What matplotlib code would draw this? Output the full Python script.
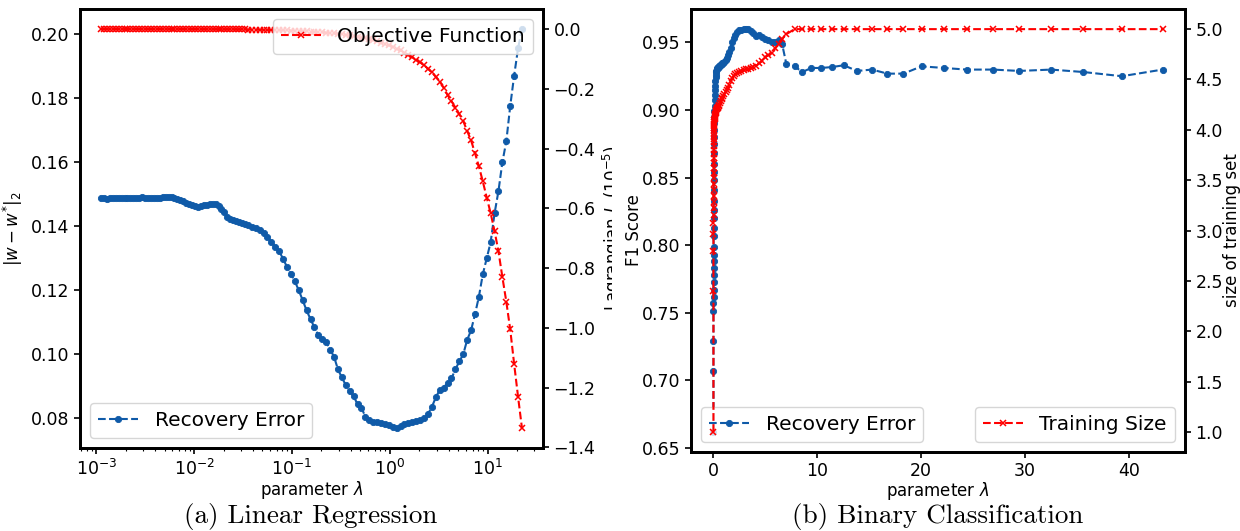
import numpy as np
import matplotlib
matplotlib.use("Agg")
import matplotlib.pyplot as plt
from matplotlib.ticker import MultipleLocator, FormatStrFormatter
from matplotlib.transforms import Bbox, TransformedBbox

# ---------------- (a) Linear regression sweep ----------------
# regularisation parameter, given as log10(lambda)
reg_log_lambda = [
    -2.95, -2.92, -2.89, -2.86, -2.83, -2.80, -2.77, -2.74, -2.71, -2.68,
    -2.65, -2.62, -2.59, -2.56, -2.53, -2.50, -2.47, -2.44, -2.41, -2.38,
    -2.35, -2.32, -2.29, -2.26, -2.23, -2.20, -2.17, -2.14, -2.11, -2.08,
    -2.05, -2.02, -1.99, -1.96, -1.93, -1.90, -1.87, -1.84, -1.81, -1.78,
    -1.75, -1.72, -1.69, -1.66, -1.63, -1.60, -1.57, -1.54, -1.51, -1.48,
    -1.45,
    -1.41, -1.37, -1.33, -1.29, -1.25, -1.21, -1.17, -1.13, -1.09, -1.05,
    -1.01, -0.97, -0.93, -0.89, -0.85, -0.81, -0.77, -0.73, -0.69, -0.65,
    -0.61, -0.57, -0.53, -0.49, -0.45, -0.41, -0.37, -0.33, -0.29, -0.25,
    -0.21, -0.17, -0.13, -0.09, -0.05, -0.01, 0.03, 0.07, 0.11, 0.15,
    0.19, 0.23, 0.27, 0.31, 0.35, 0.39, 0.43, 0.47, 0.51, 0.55,
    0.59, 0.63, 0.67, 0.71, 0.75, 0.79, 0.83, 0.87, 0.91, 0.95,
    0.99, 1.03, 1.07, 1.11, 1.15, 1.19, 1.23, 1.27, 1.31, 1.35,
]

# ||w - w*||_2
reg_recovery_error = [
    0.1487, 0.1487, 0.1486, 0.1487, 0.1488, 0.1487, 0.1487, 0.1488, 0.1488, 0.1489,
    0.1488, 0.1487, 0.1488, 0.1489, 0.1490, 0.1489, 0.1488, 0.1487, 0.1487, 0.1487,
    0.1488, 0.1490, 0.1491, 0.1492, 0.1490, 0.1487, 0.1484, 0.1481, 0.1478, 0.1474,
    0.1470, 0.1466, 0.1462, 0.1461, 0.1463, 0.1465, 0.1467, 0.1468, 0.1469, 0.1468,
    0.1463, 0.1454, 0.1443, 0.1430, 0.1423, 0.1418, 0.1415, 0.1413, 0.1410, 0.1408,
    0.1405,
    0.1399, 0.1393, 0.1387, 0.1379, 0.1366, 0.1351, 0.1336, 0.1322, 0.1298, 0.1273,
    0.1250, 0.1228, 0.1200, 0.1169, 0.1137, 0.1110, 0.1084, 0.1060, 0.1047, 0.1038,
    0.1015, 0.0993, 0.0953, 0.0928, 0.0904, 0.0886, 0.0870, 0.0844, 0.0834, 0.0805,
    0.0794, 0.0790, 0.0789, 0.0787, 0.0784, 0.0780, 0.0772, 0.0770, 0.0777, 0.0782,
    0.0786, 0.0790, 0.0792, 0.0795, 0.0800, 0.0814, 0.0836, 0.0866, 0.0889, 0.0896,
    0.0911, 0.0925, 0.0953, 0.0978, 0.1000, 0.1045, 0.1075, 0.1125, 0.1180, 0.1250,
    0.1300, 0.1350, 0.1440, 0.1510, 0.1600, 0.1665, 0.1775, 0.1870, 0.1955, 0.2016,
]

# Lagrangian objective, in units of 1e-5
reg_objective = [
    -0.0001, -0.0001, -0.0001, -0.0001, -0.0001, -0.0001, -0.0001, -0.0001, -0.0001, -0.0001,
    -0.0002, -0.0002, -0.0002, -0.0002, -0.0002, -0.0002, -0.0002, -0.0002, -0.0002, -0.0002,
    -0.0002, -0.0003, -0.0003, -0.0003, -0.0003, -0.0004, -0.0004, -0.0004, -0.0004, -0.0005,
    -0.0005, -0.0005, -0.0006, -0.0006, -0.0007, -0.0007, -0.0008, -0.0008, -0.0009, -0.0009,
    -0.0010, -0.0011, -0.0011, -0.0012, -0.0013, -0.0014, -0.0015, -0.0016, -0.0017, -0.0019,
    -0.0020,
    -0.0022, -0.0024, -0.0026, -0.0029, -0.0031, -0.0035, -0.0038, -0.0041, -0.0046, -0.0050,
    -0.0055, -0.0060, -0.0066, -0.0072, -0.0079, -0.0087, -0.0095, -0.0104, -0.0114, -0.0125,
    -0.0137, -0.0151, -0.0165, -0.0181, -0.0199, -0.0218, -0.0239, -0.0262, -0.0287, -0.0315,
    -0.0345, -0.0379, -0.0415, -0.0455, -0.0499, -0.0547, -0.0600, -0.0658, -0.0721, -0.0791,
    -0.0867, -0.0951, -0.104, -0.112, -0.121, -0.133, -0.145, -0.160, -0.176, -0.196,
    -0.221, -0.242, -0.263, -0.285, -0.308, -0.341, -0.373, -0.415, -0.460, -0.510,
    -0.564, -0.616, -0.676, -0.744, -0.830, -0.912, -1.005, -1.120, -1.230, -1.335,
]

# ---------------- (b) Binary classification sweep ----------------
clf_lambda = [
    0.0005, 0.001, 0.002, 0.003, 0.004, 0.005, 0.006, 0.007, 0.008, 0.009,
    0.010, 0.012, 0.014, 0.016, 0.018, 0.020, 0.023, 0.026, 0.030, 0.034,
    0.038, 0.043, 0.048, 0.054, 0.060, 0.067, 0.075, 0.084, 0.094, 0.105,
    0.117, 0.130, 0.145, 0.160, 0.180, 0.200, 0.220, 0.250, 0.280, 0.310,
    0.350, 0.390, 0.440, 0.490,
    0.55, 0.62, 0.70, 0.78, 0.87, 0.96, 1.06, 1.16, 1.27, 1.39,
    1.52, 1.65, 1.80, 1.95, 2.12, 2.30, 2.49, 2.69, 2.90, 3.12,
    3.35, 3.59, 3.84, 4.10, 4.38, 4.66, 4.96, 5.27, 5.60, 5.94,
    6.30, 6.60, 7.01, 7.81, 8.55, 9.42, 10.39, 11.45, 12.54, 13.82,
    15.27, 16.75, 18.29, 20.03, 22.18, 24.37, 26.93, 29.44, 32.50, 35.61,
    39.31, 43.23,
]

clf_f1 = [
    0.662, 0.707, 0.729, 0.751, 0.757, 0.762, 0.767, 0.773, 0.778, 0.783,
    0.788, 0.793, 0.799, 0.807, 0.813, 0.820, 0.826, 0.833, 0.841, 0.848,
    0.854, 0.860, 0.868, 0.875, 0.880, 0.885, 0.890, 0.895, 0.899, 0.903,
    0.907, 0.911, 0.915, 0.918, 0.921, 0.924, 0.926, 0.928, 0.929, 0.930,
    0.931, 0.931, 0.932, 0.932,
    0.9325, 0.9330, 0.9335, 0.9340, 0.9345, 0.9350, 0.9355, 0.9370, 0.9385, 0.9405,
    0.9428, 0.9460, 0.9500, 0.9530, 0.9555, 0.9575, 0.9588, 0.9593, 0.9596, 0.9597,
    0.9595, 0.9585, 0.9570, 0.9545, 0.9555, 0.9540, 0.9525, 0.9518, 0.9505, 0.9500,
    0.9513, 0.9490, 0.9342, 0.9322, 0.9280, 0.9310, 0.9310, 0.9317, 0.9330, 0.9288,
    0.9298, 0.9268, 0.9268, 0.9322, 0.9310, 0.9298, 0.9298, 0.9288, 0.9298, 0.9280,
    0.9249, 0.9298,
]

clf_train_size = [
    1.00, 2.40, 2.80, 2.97, 3.07, 3.15, 3.22, 3.28, 3.34, 3.40,
    3.46, 3.52, 3.57, 3.62, 3.67, 3.72, 3.76, 3.80, 3.84, 3.88,
    3.91, 3.94, 3.97, 4.00, 4.02, 4.04, 4.06, 4.08, 4.10, 4.11,
    4.12, 4.13, 4.14, 4.15, 4.16, 4.17, 4.18, 4.19, 4.20, 4.21,
    4.22, 4.22, 4.23, 4.24,
    4.25, 4.27, 4.29, 4.31, 4.32, 4.34, 4.36, 4.38, 4.40, 4.42,
    4.45, 4.48, 4.51, 4.53, 4.55, 4.56, 4.57, 4.58, 4.59, 4.60,
    4.60, 4.61, 4.62, 4.63, 4.66, 4.68, 4.72, 4.74, 4.76, 4.81,
    4.85, 4.90, 4.95, 5.00, 5.00, 5.00, 5.00, 5.00, 5.00, 5.00,
    5.00, 5.00, 5.00, 5.00, 5.00, 5.00, 5.00, 5.00, 5.00, 5.00,
    5.00, 5.00,
]

BLUE = "#0f5aa8"
RED = "#ff0000"
TICK_FS = 12.5
LABEL_FS = 12
LEGEND_FS = 14.5
CAPTION_FS = 19.5

plt.rcParams.update({
    "font.family": ["DejaVu Sans"],
    "axes.linewidth": 2.0,
    "xtick.major.width": 1.2,
    "ytick.major.width": 1.2,
    "xtick.major.size": 4,
    "ytick.major.size": 4,
    "xtick.minor.width": 0.8,
    "xtick.minor.size": 2.5,
})

W, H = 1240, 531
fig = plt.figure(figsize=(W / 100, H / 100), dpi=100)


def px_rect(x0, y0, x1, y1):
    """Axes rectangle from pixel corners (top-left origin)."""
    return [x0 / W, 1 - y1 / H, (x1 - x0) / W, (y1 - y0) / H]


blue_kw = dict(color=BLUE, ls="--", lw=1.5, marker="o", ms=4.5, mew=0.6)
red_kw = dict(color=RED, ls="--", lw=1.5, marker="x", ms=4.5, mew=1.1)

# ---- left panel ----
ax1 = fig.add_axes(px_rect(80, 9, 543, 448))
lam_reg = 10.0 ** np.array(reg_log_lambda)
ax1.plot(lam_reg, reg_recovery_error, label="Recovery Error", **blue_kw)
ax1.set_xscale("log")
ax1.yaxis.set_major_locator(MultipleLocator(0.02))
ax1.yaxis.set_major_formatter(FormatStrFormatter("%.2f"))
ax1.set_ylabel(r"$|w - w^{*}|_2$", fontsize=LABEL_FS)
ax1.set_xlabel(r"parameter $\lambda$", fontsize=LABEL_FS)
ax1.xaxis.set_label_coords(0.5, -(479 - 448) / 439)
ax1.tick_params(labelsize=TICK_FS)
ax1.legend(loc="lower left", fontsize=LEGEND_FS)

ax1r = ax1.twinx()
ax1r.plot(lam_reg, reg_objective, label="Objective Function", **red_kw)
ax1r.yaxis.set_major_locator(MultipleLocator(0.2))
ax1r.tick_params(labelsize=TICK_FS)
ylab = ax1r.set_ylabel(r"Lagrangian $L$ ($10^{-5}$)", fontsize=LABEL_FS)
# the right panel's area starts here, so the label is cut at its edge
ylab.set_clip_box(TransformedBbox(Bbox([[0, 0], [612 / W, 1]]), fig.transFigure))
ylab.set_clip_on(True)
ax1r.legend(loc="upper right", fontsize=LEGEND_FS)

fig.text(311 / W, 1 - 517 / H, "(a) Linear Regression", family="cmr10",
         fontsize=CAPTION_FS, ha="center", va="center")

# ---- right panel ----
ax2 = fig.add_axes(px_rect(691, 9, 1185, 452))
ax2.plot(clf_lambda, clf_f1, label="Recovery Error", **blue_kw)
ax2.yaxis.set_major_locator(MultipleLocator(0.05))
ax2.yaxis.set_major_formatter(FormatStrFormatter("%.2f"))
ax2.set_ylabel("F1 Score", fontsize=LABEL_FS, labelpad=-0.5)
ax2.set_xlabel(r"parameter $\lambda$", fontsize=LABEL_FS)
ax2.xaxis.set_label_coords(0.5, -(480 - 452) / 443)
ax2.tick_params(labelsize=TICK_FS)
ax2.legend(loc="lower left", fontsize=LEGEND_FS)

ax2r = ax2.twinx()
ax2r.plot(clf_lambda, clf_train_size, label="Training Size", **red_kw)
ax2r.yaxis.set_major_locator(MultipleLocator(0.5))
ax2r.tick_params(labelsize=TICK_FS)
ax2r.set_ylabel("size of training set", fontsize=LABEL_FS, labelpad=0)
ax2r.legend(loc="lower right", fontsize=LEGEND_FS)

fig.text(938 / W, 1 - 517 / H, "(b) Binary Classification", family="cmr10",
         fontsize=CAPTION_FS, ha="center", va="center")

fig.savefig("out.png", dpi=100)
